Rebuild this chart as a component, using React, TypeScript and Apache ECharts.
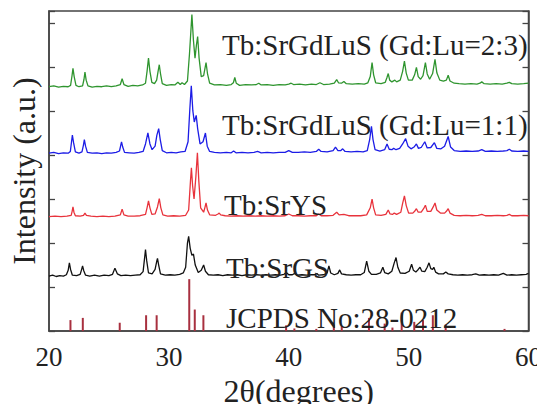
import React, { useEffect, useRef } from "react";
import * as echarts from "echarts";

// x: 2θ (degrees), y: stacked intensity (arbitrary units, tick spacing 1)
const xTicks = [20, 30, 40, 50, 60];

const greenTrace: number[][] = [
  [20.0,5.55],[20.4,5.57],[20.8,5.54],[21.2,5.56],[21.6,5.55],
  [21.8,5.58],[21.92,5.8],[22.0,5.97],[22.1,5.78],[22.25,5.58],
  [22.5,5.55],[22.8,5.57],[22.92,5.72],[23.0,5.88],[23.1,5.7],[23.25,5.57],
  [23.6,5.54],[24.0,5.56],[24.4,5.55],[24.8,5.57],[25.2,5.55],[25.6,5.57],
  [25.95,5.6],[26.1,5.73],[26.25,5.6],[26.6,5.56],[27.0,5.58],[27.4,5.57],[27.8,5.59],
  [28.05,5.63],[28.18,5.9],[28.3,6.2],[28.42,5.9],[28.58,5.65],[28.8,5.62],[28.98,5.7],[29.1,5.9],[29.2,6.05],[29.3,5.85],[29.45,5.62],
  [29.8,5.58],[30.2,5.6],[30.5,5.59],[30.75,5.65],[30.95,5.6],[31.1,5.64],[31.3,5.6],[31.55,5.68],[31.72,6.3],[31.92,7.19],[32.05,6.6],[32.18,6.2],[32.3,6.5],[32.4,6.69],[32.52,6.2],[32.7,5.78],[32.9,5.8],[33.0,5.95],[33.1,6.1],[33.22,5.85],[33.4,5.63],
  [33.8,5.59],[34.3,5.6],[34.8,5.58],[35.2,5.6],[35.38,5.64],[35.5,5.76],[35.62,5.63],[35.9,5.58],[36.4,5.6],[36.9,5.59],[37.3,5.6],[37.5,5.63],[37.7,5.59],
  [38.2,5.6],[38.7,5.58],[39.2,5.6],[39.7,5.59],[40.0,5.61],[40.2,5.63],[40.4,5.6],[40.9,5.61],[41.4,5.59],[41.9,5.61],[42.3,5.6],[42.6,5.64],[42.9,5.6],[43.4,5.61],[43.8,5.63],[44.0,5.71],[44.15,5.64],[44.4,5.63],[44.6,5.67],[44.8,5.62],[45.3,5.61],[45.8,5.62],[46.3,5.61],[46.6,5.64],[46.8,5.78],[46.95,6.1],[47.08,5.82],[47.25,5.64],[47.7,5.62],[48.05,5.65],[48.18,5.75],[48.3,5.85],[48.42,5.7],[48.6,5.66],[48.85,5.7],[49.0,5.66],[49.3,5.7],[49.5,5.9],[49.65,6.13],[49.8,5.86],[49.98,5.7],[50.3,5.7],[50.5,5.82],[50.65,5.99],[50.8,5.78],[51.0,5.72],[51.2,5.8],[51.4,6.1],[51.55,5.84],[51.75,5.72],[52.0,5.85],[52.2,6.17],[52.36,5.86],[52.6,5.7],[52.9,5.68],[53.15,5.7],[53.3,5.81],[53.45,5.68],[53.8,5.63],[54.2,5.62],[54.7,5.61],[55.2,5.62],[55.7,5.61],[55.95,5.63],[56.1,5.66],[56.3,5.62],[56.8,5.61],[57.3,5.62],[57.8,5.61],[58.2,5.63],[58.4,5.65],[58.6,5.62],[59.1,5.61],[59.6,5.62],[60.0,5.63]
];

const blueTrace: number[][] = [
  [20.0,4.04],[20.4,4.06],[20.8,4.03],[21.2,4.05],[21.6,4.04],[21.78,4.08],[21.88,4.3],[21.95,4.45],[22.05,4.28],[22.2,4.07],[22.5,4.04],[22.75,4.07],[22.87,4.22],[22.95,4.35],[23.05,4.2],[23.2,4.06],[23.6,4.04],[24.0,4.05],[24.4,4.03],[24.8,4.05],[25.2,4.04],[25.6,4.06],[25.88,4.09],[25.97,4.2],[26.05,4.3],[26.15,4.18],[26.3,4.06],[26.7,4.05],[27.1,4.04],[27.5,4.06],[27.85,4.08],[28.05,4.25],[28.25,4.5],[28.42,4.25],[28.6,4.12],[28.85,4.2],[29.0,4.45],[29.15,4.6],[29.28,4.35],[29.45,4.1],[29.8,4.05],[30.2,4.06],[30.6,4.05],[31.0,4.07],[31.35,4.08],[31.6,4.3],[31.75,5.05],[31.87,5.57],[32.0,5.0],[32.12,4.75],[32.28,4.9],[32.4,4.6],[32.6,4.25],[32.85,4.3],[33.05,4.5],[33.2,4.2],[33.4,4.08],[33.8,4.06],[34.3,4.05],[34.8,4.06],[35.2,4.05],[35.4,4.09],[35.6,4.05],[36.1,4.06],[36.6,4.05],[37.1,4.06],[37.4,4.08],[37.7,4.05],[38.2,4.06],[38.7,4.05],[39.2,4.06],[39.7,4.06],[40.0,4.1],[40.3,4.06],[40.8,4.06],[41.3,4.07],[41.8,4.06],[42.3,4.08],[42.5,4.13],[42.7,4.08],[43.2,4.07],[43.7,4.1],[43.9,4.18],[44.1,4.1],[44.35,4.1],[44.5,4.14],[44.7,4.08],[45.2,4.07],[45.7,4.08],[46.2,4.07],[46.55,4.1],[46.75,4.35],[46.9,4.65],[47.03,4.35],[47.2,4.12],[47.6,4.09],[48.0,4.12],[48.2,4.25],[48.38,4.13],[48.6,4.12],[48.75,4.15],[48.95,4.12],[49.25,4.15],[49.5,4.25],[49.75,4.37],[49.95,4.2],[50.2,4.14],[50.45,4.18],[50.65,4.25],[50.82,4.15],[51.05,4.17],[51.35,4.3],[51.55,4.16],[51.85,4.17],[52.15,4.28],[52.35,4.15],[52.7,4.14],[53.0,4.2],[53.3,4.42],[53.5,4.18],[53.8,4.1],[54.3,4.08],[54.8,4.09],[55.3,4.08],[55.8,4.09],[56.1,4.12],[56.4,4.08],[56.9,4.09],[57.4,4.08],[57.9,4.09],[58.2,4.1],[58.4,4.13],[58.6,4.09],[59.1,4.08],[59.6,4.09],[60.0,4.08]
];

const redTrace: number[][] = [
  [20.0,2.6],[20.5,2.61],[21.0,2.6],[21.5,2.61],[21.85,2.63],[21.93,2.72],[22.0,2.82],[22.08,2.7],[22.2,2.62],[22.6,2.61],[22.88,2.63],[23.0,2.68],[23.12,2.63],[23.5,2.61],[24.0,2.6],[24.5,2.61],[25.0,2.6],[25.5,2.61],[25.95,2.64],[26.1,2.77],[26.25,2.64],[26.6,2.61],[27.1,2.61],[27.6,2.62],[28.05,2.65],[28.18,2.8],[28.3,2.96],[28.42,2.8],[28.58,2.65],[28.85,2.66],[29.05,2.82],[29.2,3.01],[29.33,2.8],[29.5,2.64],[29.9,2.61],[30.4,2.62],[30.9,2.61],[31.4,2.63],[31.65,2.75],[31.8,3.4],[31.88,3.71],[31.98,3.3],[32.1,3.0],[32.25,3.5],[32.38,4.05],[32.5,3.4],[32.65,2.8],[32.9,2.7],[33.0,2.8],[33.1,2.91],[33.22,2.75],[33.4,2.64],[33.9,2.63],[34.1,2.66],[34.2,2.68],[34.32,2.64],[34.7,2.62],[35.2,2.61],[35.7,2.62],[36.2,2.61],[36.7,2.62],[37.2,2.61],[37.7,2.62],[38.2,2.61],[38.7,2.62],[39.2,2.61],[39.7,2.62],[40.0,2.66],[40.3,2.62],[40.8,2.62],[41.3,2.61],[41.8,2.62],[42.3,2.62],[42.5,2.66],[42.7,2.62],[43.2,2.62],[43.7,2.63],[44.0,2.7],[44.2,2.64],[44.6,2.65],[45.0,2.62],[45.5,2.62],[46.0,2.62],[46.5,2.64],[46.8,2.8],[46.95,3.0],[47.08,2.8],[47.25,2.64],[47.7,2.63],[48.1,2.65],[48.3,2.75],[48.45,2.66],[48.65,2.65],[48.8,2.68],[49.0,2.65],[49.35,2.7],[49.5,2.9],[49.65,3.07],[49.8,2.85],[50.0,2.68],[50.35,2.68],[50.5,2.72],[50.65,2.78],[50.8,2.7],[51.05,2.7],[51.25,2.78],[51.4,2.86],[51.55,2.72],[51.85,2.72],[52.05,2.82],[52.2,2.91],[52.35,2.75],[52.65,2.68],[53.0,2.68],[53.15,2.72],[53.3,2.78],[53.45,2.68],[53.8,2.63],[54.3,2.62],[54.8,2.63],[55.3,2.62],[55.8,2.63],[56.1,2.65],[56.4,2.62],[56.9,2.62],[57.4,2.63],[57.9,2.62],[58.2,2.63],[58.4,2.65],[58.6,2.62],[59.1,2.62],[59.6,2.63],[60.0,2.62]
];

const blackTrace: number[][] = [
  [20.0,1.25],[20.3,1.27],[20.6,1.24],[20.9,1.26],[21.2,1.25],[21.45,1.28],[21.6,1.38],[21.7,1.55],[21.8,1.4],[21.95,1.27],[22.3,1.26],[22.6,1.29],[22.7,1.38],[22.8,1.48],[22.9,1.37],[23.05,1.27],[23.4,1.25],[23.8,1.27],[24.2,1.25],[24.6,1.27],[25.0,1.26],[25.3,1.29],[25.5,1.43],[25.7,1.3],[26.0,1.26],[26.4,1.27],[26.8,1.26],[27.2,1.27],[27.6,1.28],[27.85,1.35],[27.95,1.6],[28.05,1.85],[28.15,1.6],[28.3,1.32],[28.6,1.3],[28.85,1.4],[29.0,1.6],[29.05,1.65],[29.15,1.5],[29.3,1.3],[29.7,1.27],[30.1,1.28],[30.5,1.27],[30.9,1.29],[31.2,1.32],[31.4,1.45],[31.55,2.0],[31.65,2.15],[31.78,1.88],[31.92,1.72],[32.05,1.75],[32.2,1.5],[32.45,1.33],[32.7,1.38],[32.9,1.5],[33.05,1.36],[33.3,1.28],[33.7,1.27],[34.1,1.28],[34.5,1.26],[34.9,1.28],[35.3,1.27],[35.7,1.28],[36.1,1.26],[36.5,1.28],[36.9,1.27],[37.3,1.28],[37.7,1.27],[38.1,1.28],[38.5,1.27],[38.9,1.28],[39.3,1.27],[39.6,1.29],[39.8,1.33],[40.0,1.28],[40.3,1.28],[40.5,1.31],[40.7,1.27],[41.1,1.28],[41.5,1.27],[41.9,1.28],[42.2,1.28],[42.35,1.31],[42.5,1.27],[42.9,1.28],[43.2,1.32],[43.35,1.48],[43.5,1.32],[43.8,1.28],[44.1,1.31],[44.25,1.39],[44.4,1.3],[44.8,1.28],[45.2,1.27],[45.6,1.28],[46.0,1.28],[46.3,1.33],[46.5,1.59],[46.68,1.36],[46.9,1.29],[47.3,1.29],[47.65,1.32],[47.85,1.45],[48.0,1.33],[48.3,1.3],[48.6,1.36],[48.8,1.55],[48.95,1.67],[49.1,1.45],[49.3,1.32],[49.7,1.31],[50.05,1.36],[50.25,1.52],[50.4,1.38],[50.6,1.34],[50.8,1.4],[50.95,1.45],[51.1,1.36],[51.35,1.35],[51.55,1.45],[51.7,1.55],[51.85,1.42],[52.0,1.4],[52.1,1.45],[52.25,1.34],[52.5,1.3],[52.9,1.3],[53.1,1.34],[53.3,1.3],[53.7,1.28],[54.1,1.27],[54.5,1.28],[54.9,1.27],[55.3,1.28],[55.6,1.3],[55.9,1.27],[56.3,1.28],[56.7,1.27],[57.1,1.28],[57.5,1.27],[57.9,1.31],[58.2,1.27],[58.6,1.28],[59.0,1.27],[59.4,1.28],[59.8,1.29],[60.0,1.31]
];

// JCPDS No:28-0212 reference lines [2θ, relative height]
const jcpdsPositions = [21.79, 22.82, 25.9, 28.1, 28.98, 31.7, 32.16, 32.88, 39.78, 40.47, 42.3, 43.76, 44.42, 46.69, 48.0, 48.65, 49.42, 50.47, 51.2, 52.02, 53.09, 58.0];
const jcpdsHeights = [0.25, 0.3, 0.19, 0.36, 0.36, 1.18, 0.49, 0.36, 0.13, 0.06, 0.05, 0.15, 0.11, 0.3, 0.17, 0.08, 0.42, 0.21, 0.25, 0.36, 0.15, 0.05];

const seriesLabels = [
  "Tb:SrGdLuS (Gd:Lu=2:3)",
  "Tb:SrGdLuS (Gd:Lu=1:1)",
  "Tb:SrYS",
  "Tb:SrGS",
  "JCPDS No:28-0212",
];

const FONT = "Liberation Serif";

export default function App() {
  const ref = useRef<HTMLDivElement>(null);
  useEffect(() => {
    if (!ref.current) return;
    const chart = echarts.init(ref.current, undefined, { renderer: "svg" });
    const tickStyle = { show: true, inside: true, length: 6, lineStyle: { color: "#444", width: 1.3 } };
    const labelY = [45, 125, 205, 268, 318];
    const labelX = [222, 222, 224, 226, 226];
    chart.setOption({
      animation: false,
      backgroundColor: "#fff",
      grid: { left: 45, right: 16, top: 11, bottom: 57, show: true, borderColor: "#444", borderWidth: 1.5 },
      xAxis: {
        type: "value", min: xTicks[0], max: xTicks[xTicks.length - 1], interval: 10,
        axisLine: { show: true, onZero: false, lineStyle: { color: "#444", width: 1.5 } },
        axisTick: { show: false }, splitLine: { show: false },
        axisLabel: { fontSize: 27, fontFamily: FONT, color: "#222", margin: 12 },
        name: "2θ(degrees)", nameLocation: "middle", nameGap: 30,
        nameTextStyle: { fontSize: 32, fontFamily: FONT, color: "#222", padding: [0, 0, 0, 20] },
      },
      yAxis: [
        {
          type: "value", min: 0, max: 7.27, interval: 1, position: "left",
          axisLine: { show: true, onZero: false, lineStyle: { color: "#444", width: 1.5 } },
          axisTick: tickStyle,
          axisLabel: { show: false }, splitLine: { show: false },
          name: "Intensity (a.u.)", nameLocation: "middle", nameGap: 9,
          nameTextStyle: { fontSize: 32, fontFamily: FONT, color: "#222" },
        },
        {
          type: "value", min: 0, max: 7.27, interval: 1, position: "right",
          axisLine: { show: true, onZero: false, lineStyle: { color: "#444", width: 1.5 } },
          axisTick: tickStyle,
          axisLabel: { show: false }, splitLine: { show: false },
        },
      ],
      series: [
        {
          type: "bar", barWidth: 2,
          data: jcpdsPositions.map((x, i) => [x, jcpdsHeights[i]]),
          itemStyle: { color: "#a8303f" },
        },
        { type: "line", data: blackTrace, showSymbol: false, lineStyle: { color: "#111", width: 1.3 } },
        { type: "line", data: redTrace, showSymbol: false, lineStyle: { color: "#e8333c", width: 1.3 } },
        { type: "line", data: blueTrace, showSymbol: false, lineStyle: { color: "#1c1ce6", width: 1.3 } },
        { type: "line", data: greenTrace, showSymbol: false, lineStyle: { color: "#2f952f", width: 1.3 } },
      ],
      graphic: seriesLabels.map((t, i) => ({
        type: "text", x: labelX[i], y: labelY[i], z: 10,
        style: { text: t, font: "29px Liberation Serif", fill: "#222", verticalAlign: "middle" },
      })),
    });
    return () => chart.dispose();
  }, []);
  return <div ref={ref} style={{ width: 545, height: 412, margin: -8 }} />;
}
